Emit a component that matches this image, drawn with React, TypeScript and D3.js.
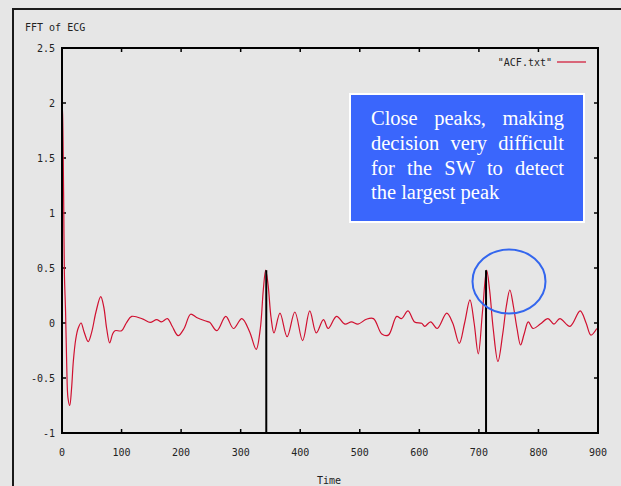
import { useLayoutEffect, useRef } from "react";
import * as d3 from "d3";

const xTicks = [0, 100, 200, 300, 400, 500, 600, 700, 800, 900];
const yTicks = [-1, -0.5, 0, 0.5, 1, 1.5, 2, 2.5];

const acfX = [
  0, 1, 2, 3, 4, 6, 8, 10, 13, 16, 19, 23, 27, 32, 37, 44, 50, 57, 65, 70, 75, 80, 85, 89, 100,
  108, 117, 136, 148, 159, 167, 177, 185, 195, 205, 216, 226, 240, 248, 260, 275, 288, 302, 315,
  326, 333, 338, 342, 346, 351, 356, 366, 378, 391, 404, 416, 427, 439, 447, 461, 475, 486, 497,
  511, 523, 537, 548, 562, 570, 581, 592, 604, 609, 619, 630, 646, 656, 667, 676, 685, 692, 699,
  706, 713, 718, 724, 732, 740, 746, 752, 758, 764, 770, 776, 783, 791, 803, 816, 826, 836, 853,
  870, 880, 888, 898,
];
const acfY = [
  2.0, 1.9, 1.55, 1.0, 0.45, 0.1, -0.4, -0.68, -0.75, -0.6, -0.35, -0.15, -0.05, 0.0, -0.08,
  -0.17, -0.08, 0.1, 0.24, 0.15, -0.05, -0.18, -0.1, -0.07, -0.07, 0.0, 0.06, 0.035, 0.005, 0.03,
  0.01, 0.04, -0.03, -0.115, -0.05, 0.08, 0.05, 0.02, 0.006, -0.07, 0.06, -0.05, 0.04, -0.08,
  -0.24, -0.05, 0.3, 0.48, 0.35, 0.05, -0.09, 0.09, -0.125, 0.1, -0.16, 0.11, -0.09, 0.03, -0.05,
  0.06, -0.01, 0.01, -0.01, 0.034, 0.04, -0.1, -0.11, 0.06, 0.04, 0.11, 0.01, -0.003, -0.03, 0.01,
  -0.05, 0.09, 0.0, -0.185, 0.0, 0.21, 0.0, -0.28, 0.1, 0.48, 0.3, -0.05, -0.35, -0.1, 0.15, 0.3,
  0.15, -0.05, -0.2, -0.1, 0.01, -0.05, -0.01, 0.04, -0.01, 0.04, -0.03, 0.11, 0.0, -0.11, -0.05,
];
// the two marked peaks
const peakX = [343, 712];
const peakY = [0.48, 0.48];

const noteLines = ["Close peaks, making", "decision very difficult", "for the SW to detect", "the largest peak"];

const W = 621;
const H = 486;
const left = 62;
const right = 598;
const top = 48;
const bottom = 433;

export default function App() {
  const noteRef = useRef<SVGGElement>(null);

  const x = d3.scaleLinear().domain([0, 900]).range([left, right]);
  const y = d3.scaleLinear().domain([-1, 2.5]).range([bottom, top]);

  const pts: [number, number][] = acfX.map((v, i) => [v, acfY[i]]);
  const line = d3
    .line<[number, number]>()
    .x((d) => x(d[0]))
    .y((d) => y(d[1]))
    .curve(d3.curveCatmullRom.alpha(0.5));

  // justify the first lines of the note by widening word gaps
  useLayoutEffect(() => {
    if (!noteRef.current) return;
    const texts = noteRef.current.querySelectorAll("text");
    texts.forEach((t, i) => {
      if (i >= 3) return;
      const w = (t as SVGTextElement).getComputedTextLength();
      const gaps = noteLines[i].split(" ").length - 1;
      const extra = (193 - w) / gaps;
      (t as SVGTextElement).style.wordSpacing = extra + "px";
    });
  }, []);

  const mono = "'DejaVu Sans Mono', monospace";

  return (
    <svg width={W} height={H} style={{ position: "absolute", left: 0, top: 0 }}>
      <rect width={W} height={H} fill="#e6e6e6" />
      {/* outer frame */}
      <path d={`M13,${H} L13,9 L${W},9`} fill="none" stroke="#1a1a1a" strokeWidth={2} />

      <text x={25} y={31} fontFamily={mono} fontSize={10} fill="#222">
        FFT of ECG
      </text>

      {/* ticks */}
      {yTicks.map((t) => (
        <g key={"y" + t}>
          <line x1={left} x2={left + 4} y1={y(t)} y2={y(t)} stroke="#000" strokeWidth={1.5} />
          <line x1={right} x2={right - 4} y1={y(t)} y2={y(t)} stroke="#000" strokeWidth={1.5} />
          <text x={55} y={y(t)} dy="0.35em" textAnchor="end" fontFamily={mono} fontSize={10} fill="#222">
            {t}
          </text>
        </g>
      ))}
      {xTicks.map((t) => (
        <g key={"x" + t}>
          <line x1={x(t)} x2={x(t)} y1={bottom} y2={bottom - 4} stroke="#000" strokeWidth={1.5} />
          <line x1={x(t)} x2={x(t)} y1={top} y2={top + 4} stroke="#000" strokeWidth={1.5} />
          <text x={x(t)} y={452} dy="0.35em" textAnchor="middle" fontFamily={mono} fontSize={10} fill="#222">
            {t}
          </text>
        </g>
      ))}
      <text x={329} y={480} dy="0.35em" textAnchor="middle" fontFamily={mono} fontSize={10} fill="#222">
        Time
      </text>

      {/* data */}
      <path d={line(pts) ?? ""} fill="none" stroke="#d01030" strokeWidth={1.2} />
      {peakX.map((px, i) => (
        <line key={"p" + i} x1={x(px)} x2={x(px)} y1={y(peakY[i])} y2={bottom} stroke="#000" strokeWidth={2} />
      ))}

      {/* plot border */}
      <rect x={left} y={top} width={right - left} height={bottom - top} fill="none" stroke="#000" strokeWidth={2} />

      {/* legend */}
      <text x={552} y={62} dy="0.35em" textAnchor="end" fontFamily={mono} fontSize={10} fill="#222">
        "ACF.txt"
      </text>
      <line x1={557} x2={586} y1={62} y2={62} stroke="#d01030" strokeWidth={1.2} />

      {/* note box */}
      <rect x={350} y={94} width={234} height={128} fill="#3a66fc" stroke="#ffffff" strokeWidth={2} />
      <g ref={noteRef}>
        {noteLines.map((s, i) => (
          <text
            key={"n" + i}
            x={371}
            y={125 + i * 24.8}
            fontFamily="'Liberation Serif', 'Times New Roman', serif"
            fontSize={20.5}
            fill="#ffffff"
          >
            {s}
          </text>
        ))}
      </g>

      <ellipse cx={509} cy={281.5} rx={36.5} ry={32} fill="none" stroke="#3366ee" strokeWidth={2} />
    </svg>
  );
}
